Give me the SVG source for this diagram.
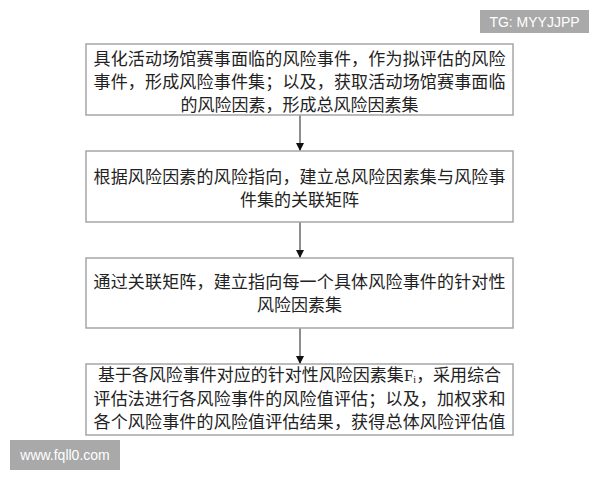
<svg xmlns="http://www.w3.org/2000/svg" width="600" height="480" viewBox="0 0 600 480">
<style>
.box{fill:#ffffff;stroke:#a6a6a6;stroke-width:1.5}
.t{font-family:"Noto Sans CJK SC","Noto Sans CJK JP",sans-serif;font-size:17px;fill:#222222;text-anchor:middle}
.conn{stroke:#444444;stroke-width:1.2;fill:none}
.wm{fill:#a9a9a9}
.wmt{font-family:"Liberation Sans","DejaVu Sans",sans-serif;fill:#ffffff;text-anchor:middle}
</style>
<defs>
<marker id="arr" viewBox="0 0 10 10" refX="10" refY="5" markerWidth="8" markerHeight="8" markerUnits="userSpaceOnUse" orient="auto">
<path d="M0,0 L10,5 L0,10 Z" fill="#111111"/>
</marker>
</defs>
<rect x="0" y="0" width="600" height="480" fill="#ffffff"/>
<g id="connectors">
<line class="conn" x1="300" y1="115" x2="300" y2="151" marker-end="url(#arr)"/>
<line class="conn" x1="300" y1="222" x2="300" y2="258" marker-end="url(#arr)"/>
<line class="conn" x1="300" y1="328" x2="300" y2="364" marker-end="url(#arr)"/>
</g>
<g id="node1">
<rect class="box" x="86" y="44" width="427" height="71"/>
<text class="t" x="299.5" y="65" textLength="412" lengthAdjust="spacing">具化活动场馆赛事面临的风险事件，作为拟评估的风险</text>
<text class="t" x="299.5" y="88" textLength="412" lengthAdjust="spacing">事件，形成风险事件集；以及，获取活动场馆赛事面临</text>
<text class="t" x="299.5" y="111">的风险因素，形成总风险因素集</text>
</g>
<g id="node2">
<rect class="box" x="86" y="151" width="427" height="71"/>
<text class="t" x="299.5" y="182.5" textLength="412" lengthAdjust="spacing">根据风险因素的风险指向，建立总风险因素集与风险事</text>
<text class="t" x="299.5" y="205.5">件集的关联矩阵</text>
</g>
<g id="node3">
<rect class="box" x="86" y="258" width="427" height="70"/>
<text class="t" x="299.5" y="288" textLength="412" lengthAdjust="spacing">通过关联矩阵，建立指向每一个具体风险事件的针对性</text>
<text class="t" x="299.5" y="311">风险因素集</text>
</g>
<g id="node4">
<rect class="box" x="86" y="364" width="427" height="71"/>
<text class="t" x="299.5" y="381">基于各风险事件对应的针对性风险因素集<tspan font-family="Liberation Serif, serif">F</tspan><tspan font-family="Liberation Serif, serif" font-size="10" baseline-shift="-2">i</tspan>，采用综合</text>
<text class="t" x="299.5" y="405" textLength="412" lengthAdjust="spacing">评估法进行各风险事件的风险值评估；以及，加权求和</text>
<text class="t" x="299.5" y="428" textLength="412" lengthAdjust="spacing">各个风险事件的风险值评估结果，获得总体风险评估值</text>
</g>
<g id="watermarks">
<rect class="wm" x="480" y="10" width="109" height="23"/>
<text class="wmt" x="534.5" y="26.5" font-size="14">TG: MYYJJPP</text>
<rect class="wm" x="10" y="440" width="110" height="30"/>
<text class="wmt" x="65" y="460" font-size="14">www.fqll0.com</text>
</g>
</svg>
